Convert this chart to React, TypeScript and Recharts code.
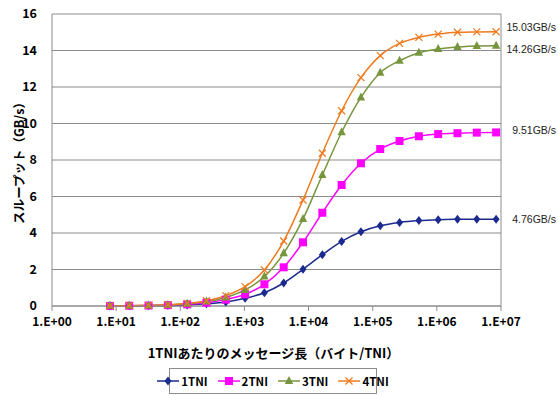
import React from "react";
import {
  LineChart,
  Line,
  XAxis,
  YAxis,
  CartesianGrid,
  Legend,
  ReferenceLine,
} from "recharts";

// message length per TNI (bytes), 2^3 .. 2^23
const sizes = [
  8, 16, 32, 64, 128, 256, 512, 1024, 2048, 4096, 8192, 16384, 32768, 65536,
  131072, 262144, 524288, 1048576, 2097152, 4194304, 8388608,
];

const tni1 = [
  0.004, 0.008, 0.015, 0.03, 0.06, 0.12, 0.22, 0.42, 0.73, 1.26, 2.01, 2.81,
  3.54, 4.07, 4.4, 4.58, 4.68, 4.73, 4.75, 4.76, 4.76,
];
const tni2 = [
  0.006, 0.012, 0.025, 0.05, 0.09, 0.18, 0.35, 0.64, 1.19, 2.12, 3.49, 5.11,
  6.63, 7.82, 8.6, 9.04, 9.3, 9.42, 9.47, 9.5, 9.51,
];
const tni3 = [
  0.008, 0.015, 0.03, 0.06, 0.12, 0.24, 0.47, 0.88, 1.61, 2.89, 4.77, 7.18,
  9.52, 11.43, 12.78, 13.44, 13.88, 14.08, 14.19, 14.25, 14.26,
];
const tni4 = [
  0.009, 0.018, 0.035, 0.07, 0.14, 0.29, 0.57, 1.06, 1.97, 3.56, 5.81, 8.37,
  10.7, 12.51, 13.72, 14.39, 14.72, 14.9, 15.0, 15.02, 15.03,
];

const seriesNames = ["1TNI", "2TNI", "3TNI", "4TNI"];
const endLabels = ["4.76GB/s", "9.51GB/s", "14.26GB/s", "15.03GB/s"];
const xTicks = [1, 10, 100, 1000, 10000, 100000, 1000000, 10000000];
const yTicks = [0, 2, 4, 6, 8, 10, 12, 14, 16];

const data = sizes.map((s, i) => ({
  size: s,
  t1: tni1[i],
  t2: tni2[i],
  t3: tni3[i],
  t4: tni4[i],
}));

const COLORS = ["#1B2A8E", "#FF00FF", "#77953D", "#F07A1E"];
const KEYS = ["t1", "t2", "t3", "t4"];
const LABEL_DY = [4, 2, 7, -1];
const LAST = sizes.length - 1;
const GRID = "#8C8C8C";
const TICK_FONT = "'Noto Sans CJK JP', sans-serif";

const Marker = ({ kind, cx, cy, color }: any) => {
  if (cx == null || cy == null) return null;
  if (kind === 0) {
    return (
      <polygon
        points={`${cx},${cy - 4.5} ${cx + 3.5},${cy} ${cx},${cy + 4.5} ${cx - 3.5},${cy}`}
        fill={color}
      />
    );
  }
  if (kind === 1) {
    return <rect x={cx - 4} y={cy - 4} width={8} height={8} fill={color} />;
  }
  if (kind === 2) {
    return (
      <polygon
        points={`${cx},${cy - 5} ${cx + 4.2},${cy + 3} ${cx - 4.2},${cy + 3}`}
        fill={color}
      />
    );
  }
  return (
    <g stroke={color} strokeWidth={1.2}>
      <line x1={cx - 3.5} y1={cy - 3.5} x2={cx + 3.5} y2={cy + 3.5} />
      <line x1={cx - 3.5} y1={cy + 3.5} x2={cx + 3.5} y2={cy - 3.5} />
    </g>
  );
};

const xFmt = (v: number) =>
  "1.E+" + String(Math.round(Math.log10(v))).padStart(2, "0");

const LegendBox = () => (
  <div
    style={{
      border: "1px solid #8C8C8C",
      width: 206,
      height: 24,
      display: "flex",
      alignItems: "center",
      justifyContent: "center",
      gap: 10,
      fontFamily: TICK_FONT,
      fontSize: 11.5,
      fontWeight: 700,
      background: "#fff",
    }}
  >
    {seriesNames.map((n, i) => (
      <span key={n} style={{ display: "flex", alignItems: "center" }}>
        <svg width={22} height={12}>
          <line x1={0} y1={6} x2={22} y2={6} stroke={COLORS[i]} strokeWidth={1.5} />
          <Marker kind={i} cx={11} cy={6} color={COLORS[i]} />
        </svg>
        <span style={{ marginLeft: 2 }}>{n}</span>
      </span>
    ))}
  </div>
);

export default function App() {
  return (
    <div style={{ position: "absolute", left: 0, top: 0, width: 558, height: 396, background: "#fff" }}>
      <LineChart
        width={558}
        height={396}
        data={data}
        margin={{ top: 14, right: 57, left: 0, bottom: 0 }}
      >
        <CartesianGrid horizontal vertical={false} stroke={GRID} strokeWidth={1} />
        <ReferenceLine x={10000000} stroke={GRID} ifOverflow="visible" />
        <XAxis
          dataKey="size"
          type="number"
          scale="log"
          domain={[1, 10000000]}
          ticks={xTicks}
          tickFormatter={xFmt}
          allowDataOverflow
          height={90}
          stroke={GRID}
          tickSize={5}
          tickMargin={6}
          tick={{ fill: "#000", fontSize: 12, fontWeight: 700, fontFamily: TICK_FONT }}
          label={(p: any) => {
            const vb = p.viewBox;
            return (
              <text
                x={vb.x + vb.width / 2 - 3}
                y={vb.y + 52}
                textAnchor="middle"
                fontFamily={TICK_FONT}
                fontWeight={700}
                fontSize={13}
                fill="#000"
              >
                1TNIあたりのメッセージ長（バイト/TNI）
              </text>
            );
          }}
        />
        <YAxis
          domain={[0, 16]}
          ticks={yTicks}
          width={52}
          stroke={GRID}
          tickLine={false}
          tickMargin={9}
          tick={{ fill: "#000", fontSize: 12.5, fontWeight: 700, fontFamily: TICK_FONT }}
          label={(p: any) => {
            const vb = p.viewBox;
            const cy = vb.y + vb.height / 2;
            return (
              <text
                x={18}
                y={cy}
                transform={`rotate(-90, 18, ${cy})`}
                textAnchor="middle"
                dominantBaseline="central"
                fontFamily={TICK_FONT}
                fontWeight={700}
                fontSize={12.5}
                fill="#000"
              >
                スループット（GB/s）
              </text>
            );
          }}
        />
        <Legend
          content={() => <LegendBox />}
          wrapperStyle={{ position: "absolute", left: 169, top: 368, width: 208, height: 0 }}
        />
        {KEYS.map((k, i) => (
          <Line
            key={k}
            dataKey={k}
            name={seriesNames[i]}
            type="monotone"
            stroke={COLORS[i]}
            strokeWidth={1.5}
            isAnimationActive={false}
            dot={(p: any) => (
              <Marker key={`${k}-${p.index}`} kind={i} cx={p.cx} cy={p.cy} color={COLORS[i]} />
            )}
            activeDot={false}
            label={(p: any) =>
              p.index === LAST ? (
                <text
                  key={`lab-${k}`}
                  x={556}
                  y={p.y + LABEL_DY[i]}
                  textAnchor="end"
                  fontFamily="'Liberation Sans', Arial, sans-serif"
                  fontSize={10.5}
                  fill="#222"
                >
                  {endLabels[i]}
                </text>
              ) : (
                <g key={`lab-${k}-${p.index}`} />
              )
            }
          />
        ))}
      </LineChart>
    </div>
  );
}
